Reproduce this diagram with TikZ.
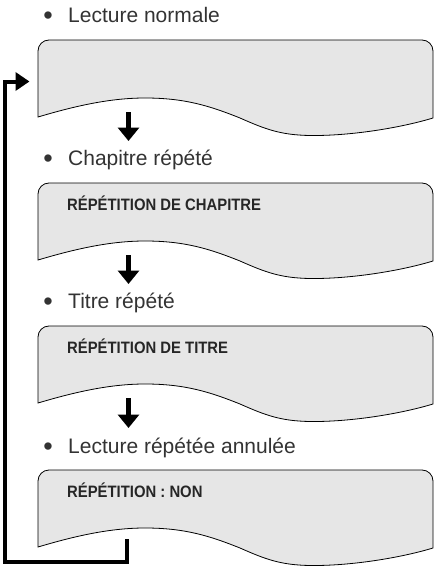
\documentclass[tikz,border=0pt]{standalone}
\usepackage{fontspec}
\setmainfont{Liberation Sans}
\newfontfamily\labelfont{Liberation Sans}
\newfontfamily\screenfont[FakeStretch=0.9]{Liberation Sans Bold}
\usetikzlibrary{arrows.meta}
\definecolor{screengray}{HTML}{E6E6E6}
\definecolor{labelgray}{HTML}{333333}
\definecolor{screenink}{HTML}{262626}
\tikzset{
  screenbox/.style={draw=black,line width=0.8pt,fill=screengray},
  screen/.pic={
    \path[screenbox] (38,77) -- (38,11) .. controls (38,4.9) and (42.9,0) .. (49,0)
      -- (422,0) .. controls (428.1,0) and (433,4.9) .. (433,11) -- (433,78)
      .. controls (400,88) and (350,96) .. (310,95.5)
      .. controls (280,95) and (265,89) .. (240,78)
      .. controls (210,66) and (185,58) .. (145,58)
      .. controls (110,58) and (75,66) .. (38,77) -- cycle;
    \coordinate (-in) at (128.5,-42);
    \coordinate (-out) at (128.5,72);
    \coordinate (-entry) at (29.5,41.5);
    \coordinate (-foot) at (127,69);
  },
  labeltext/.style={anchor=base west,inner sep=0pt,text=labelgray,
    font=\labelfont\fontsize{21}{24}\selectfont},
  bulletmark/.style={anchor=base,inner sep=0pt,text=labelgray,
    font=\fontsize{27}{30}\selectfont},
  screentext/.style={anchor=base west,inner sep=0pt,text=screenink,
    font=\screenfont\fontsize{16.5}{18}\selectfont},
  downarrow/.style={line width=4.5pt,-{Triangle[width=21pt,length=13.5pt]}},
  looparrow/.style={line width=4pt,line join=miter,-{Triangle[width=18pt,length=14pt]}}
}
\begin{document}
\begin{tikzpicture}[x=1pt,y=-1pt]
\useasboundingbox (0,0) rectangle (437,568);
% screens
\pic (b1) at (0,40) {screen};
\pic (b2) at (0,183) {screen};
\pic (b3) at (0,326) {screen};
\pic (b4) at (0,470) {screen};
% headings
\node[labeltext] (l1) at (68,22.3) {Lecture normale};
\node[labeltext] (l2) at (68,165.5) {Chapitre répété};
\node[labeltext] (l3) at (68,308.5) {Titre répété};
\node[labeltext] (l4) at (68,453) {Lecture répétée annulée};
\node[bulletmark] (u1) at (48,24.5) {•};
\node[bulletmark] (u2) at (48,167.7) {•};
\node[bulletmark] (u3) at (48,310.7) {•};
\node[bulletmark] (u4) at (48,455.2) {•};
% screen texts
\node[screentext] (t2) at (67,210) {RÉPÉTITION DE CHAPITRE};
\node[screentext] (t3) at (67,353) {RÉPÉTITION DE TITRE};
\node[screentext] (t4) at (67,497) {RÉPÉTITION : NON};
% arrows
\draw[downarrow] (b1-out) -- (b2-in);
\draw[downarrow] (b2-out) -- (b3-in);
\draw[downarrow] (b3-out) -- (b4-in);
\coordinate (lc) at (4.7,561.5);
\draw[looparrow] (b4-foot) |- (lc) |- (b1-entry);
\end{tikzpicture}
\end{document}
